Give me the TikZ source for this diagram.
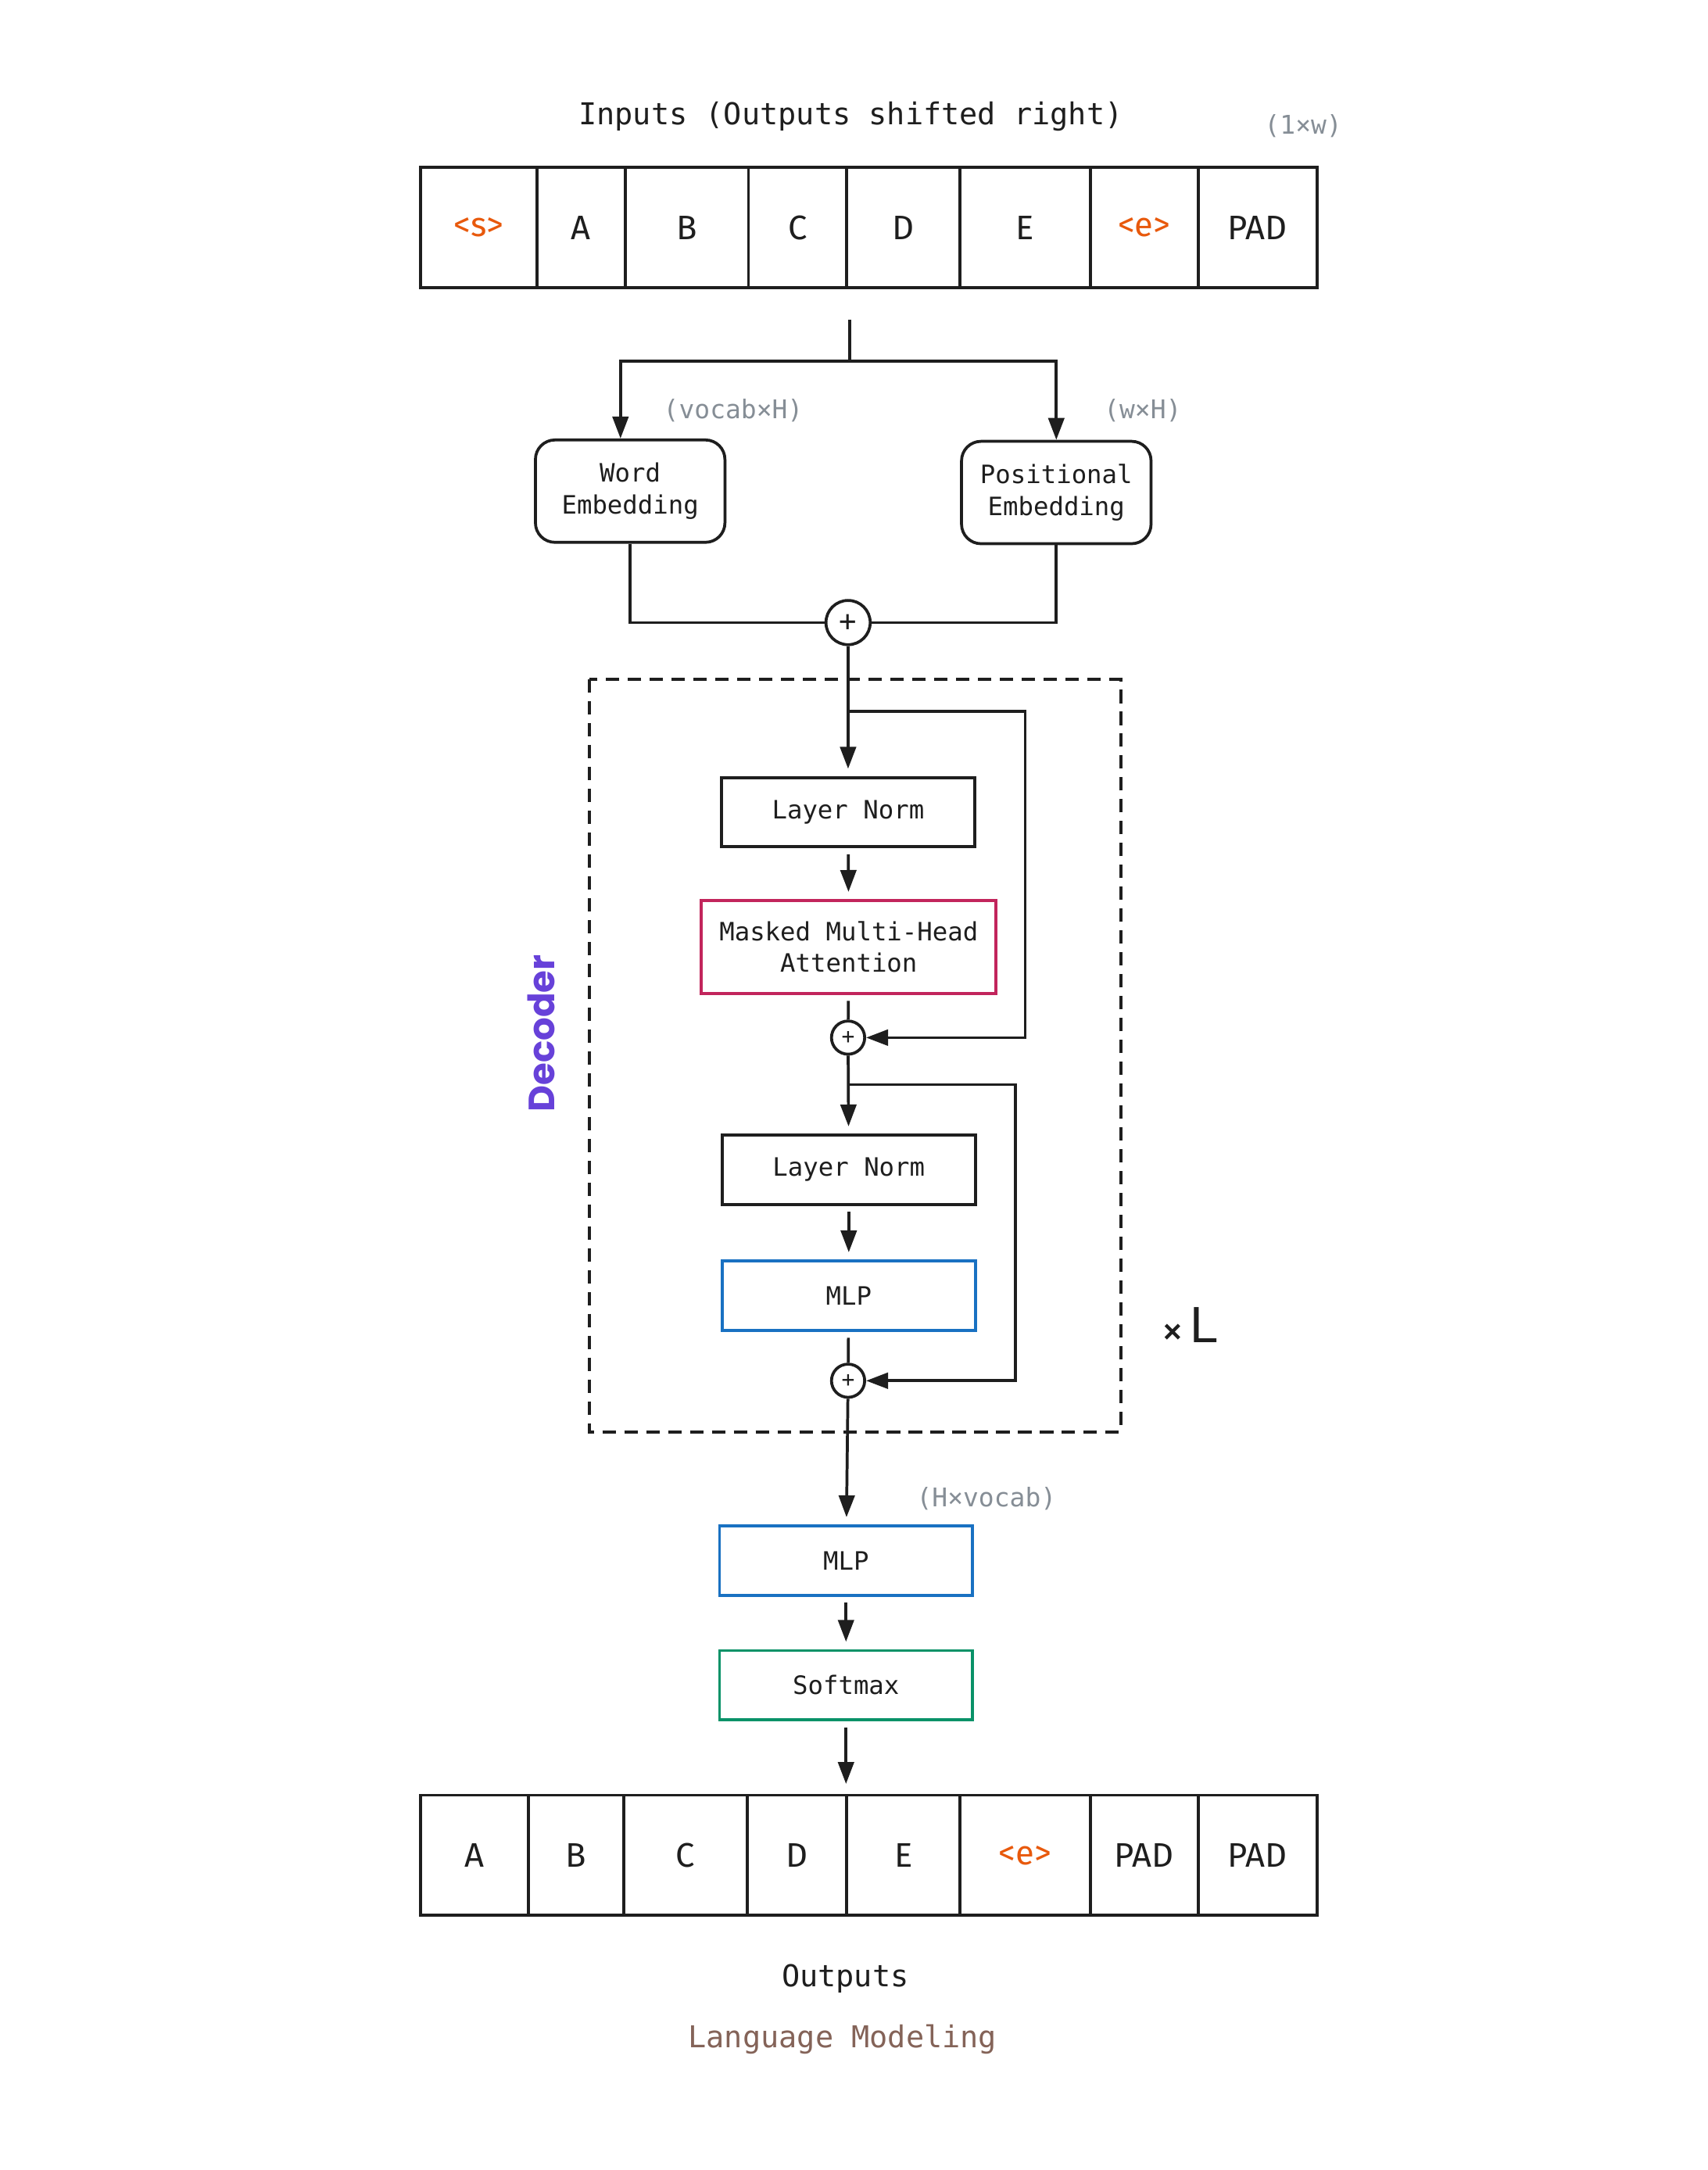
\documentclass[tikz,border=0pt]{standalone}
\usepackage{fontspec}
\usepackage{tikz}
\usetikzlibrary{calc,arrows.meta}
\setmainfont{DejaVu Sans Mono}
\newfontfamily\tokfont{Fira Sans}
\newfontfamily\sansfont{Liberation Sans}
\newfontfamily\decfont{Poppins}
\definecolor{ink}{HTML}{1E1E1E}
\definecolor{tokorange}{HTML}{E8590C}
\definecolor{dimgray}{HTML}{868E96}
\definecolor{attnred}{HTML}{C2255C}
\definecolor{mlpblue}{HTML}{1971C2}
\definecolor{smgreen}{HTML}{099268}
\definecolor{decviolet}{HTML}{6741D9}
\definecolor{taskbrown}{HTML}{846358}
\def\boxtext{\fontsize{10.4}{13}\selectfont}
\tikzset{
  cell/.style={draw=ink, line width=1.2pt, minimum height=1.74cm, inner sep=0pt, text=ink, font={\tokfont\fontsize{14}{16}\selectfont}},
  block/.style={draw=ink, line width=1.2pt, minimum width=3.66cm, minimum height=1.0cm, inner sep=0pt, align=center, text=ink, font=\boxtext},
  emb/.style={block, rounded corners=8pt, minimum width=2.74cm, minimum height=1.48cm},
  sumnode/.style={circle, draw=ink, line width=1.2pt, fill=white, inner sep=0pt, minimum size=0.48cm, text=ink, font={\fontsize{9}{9}\selectfont}},
  dims/.style={text=dimgray, font={\fontsize{10.6}{12}\selectfont}},
  conn/.style={draw=ink, line width=1.2pt},
  arr/.style={conn, -{Triangle[length=9pt,width=6.5pt]}},
}

\begin{document}
\begin{tikzpicture}[x=0.02cm, y=-0.02cm]
		%%%%% START %%%%%
		\fill[white] (0,0) rectangle (1234,1568.5);
		\useasboundingbox (0,0) rectangle (1234,1568.5);
		
		\node[text=ink, font={\fontsize{12.4}{14}\selectfont}] (intitle) at (615,84) {Inputs (Outputs shifted right)};
		\node[dims] (indims) at (942,91) {(1×w)};
		
		\node[cell, minimum width=1.68cm, text=tokorange] (in1) at (346,164.5) {<s>};
		\node[cell, minimum width=1.28cm] (in2) at (420,164.5) {A};
		\node[cell, minimum width=1.78cm] (in3) at (496.5,164.5) {B};
		\node[cell, minimum width=1.42cm] (in4) at (576.5,164.5) {C};
		\node[cell, minimum width=1.64cm] (in5) at (653,164.5) {D};
		\node[cell, minimum width=1.88cm] (in6) at (741,164.5) {E};
		\node[cell, minimum width=1.56cm, text=tokorange] (in7) at (827,164.5) {<e>};
		\node[cell, minimum width=1.72cm] (in8) at (909,164.5) {PAD};
		
		\node[emb] (wemb) at (455.5,355) {Word\\Embedding};
		\node[emb] (pemb) at (763.5,356) {Positional\\Embedding};
		\node[dims] (wdims) at (530,297) {(vocab×H)};
		\node[dims] (pdims) at (826,297) {(w×H)};
		
		\node[sumnode, minimum size=0.64cm, font={\fontsize{12}{12}\selectfont}] (sum1) at (613,450) {+};
		
		% decoder block
		\draw[ink, line width=1.3pt, dash pattern=on 5.5pt off 3.5pt] (426,491) rectangle (810,1035);
		\node[rotate=90, text=decviolet, font={\decfont\bfseries\fontsize{15}{15}\selectfont}] (declabel) at (391,747) {Decoder};
		\node[text=ink, font={\sansfont\fontsize{21}{21}\selectfont}] (reps) at (861,958) {{\bfseries\fontsize{13}{13}\selectfont×}\,L};
		
		\node[block] (ln1) at (613,587) {Layer Norm};
		\node[block, draw=attnred, minimum width=4.26cm, minimum height=1.34cm] (mha) at (613.5,684.5) {Masked Multi-Head\\Attention};
		\node[sumnode] (sum2) at (613,750) {+};
		\node[block] (ln2) at (613.5,845.5) {Layer Norm};
		\node[block, draw=mlpblue] (mlp1) at (613.5,936.5) {MLP};
		\node[sumnode] (sum3) at (613,998) {+};
		
		\node[block, draw=mlpblue] (mlp2) at (611.5,1128) {MLP};
		\node[dims] (hdims) at (713,1083) {(H×vocab)};
		\node[block, draw=smgreen] (softmax) at (611.5,1218) {Softmax};
		
		\node[cell, minimum width=1.56cm] (out1) at (343,1341) {A};
		\node[cell, minimum width=1.38cm] (out2) at (416.5,1341) {B};
		\node[cell, minimum width=1.78cm] (out3) at (495.5,1341) {C};
		\node[cell, minimum width=1.44cm] (out4) at (576,1341) {D};
		\node[cell, minimum width=1.64cm] (out5) at (653,1341) {E};
		\node[cell, minimum width=1.88cm, text=tokorange] (out6) at (741,1341) {<e>};
		\node[cell, minimum width=1.56cm] (out7) at (827,1341) {PAD};
		\node[cell, minimum width=1.72cm] (out8) at (909,1341) {PAD};
		
		\node[text=ink, font={\fontsize{12.4}{14}\selectfont}] (outtitle) at (611,1430) {Outputs};
		\node[text=taskbrown, font={\fontsize{12.4}{14}\selectfont}] (task) at (609,1474) {Language Modeling};
		
		% connectors
		\coordinate (instart) at (614,231);
		\coordinate (split) at (614,261);
		\draw[conn] (instart) -- (split);
		\draw[arr] (split) -| ($(wemb.north)+(-7,0)$);
		\draw[arr] (split) -| (pemb.north);
		\draw[conn] (wemb.south) |- (sum1.west);
		\draw[conn] (pemb.south) |- (sum1.east);
		\draw[arr, shorten >=3pt] (sum1) -- (ln1);
		
		\coordinate (res1) at (613,514);
		\coordinate (res1r) at (741,514);
		\draw[arr] (res1) -- (res1r) |- (sum2.east);
		\draw[arr, shorten <=2.5pt, shorten >=3pt] (ln1) -- (mha);
		\draw[conn, shorten <=2.5pt] (mha) -- (sum2);
		\draw[arr, shorten >=3pt] (sum2) -- (ln2);
		
		\coordinate (res2) at (613,784);
		\coordinate (res2r) at (734,784);
		\draw[arr] (res2) -- (res2r) |- (sum3.east);
		\draw[arr, shorten <=2.5pt, shorten >=3pt] (ln2) -- (mlp1);
		\draw[conn, shorten <=2.5pt] (mlp1) -- (sum3);
		
		\draw[arr, shorten >=3pt] (sum3) -- (mlp2);
		\draw[arr, shorten <=2.5pt, shorten >=3pt] (mlp2) -- (softmax);
		\draw[arr, shorten <=2.5pt, shorten >=4pt] (softmax) -- (softmax |- out5.north);
		%%%%% END %%%%%
\end{tikzpicture}
\end{document}
